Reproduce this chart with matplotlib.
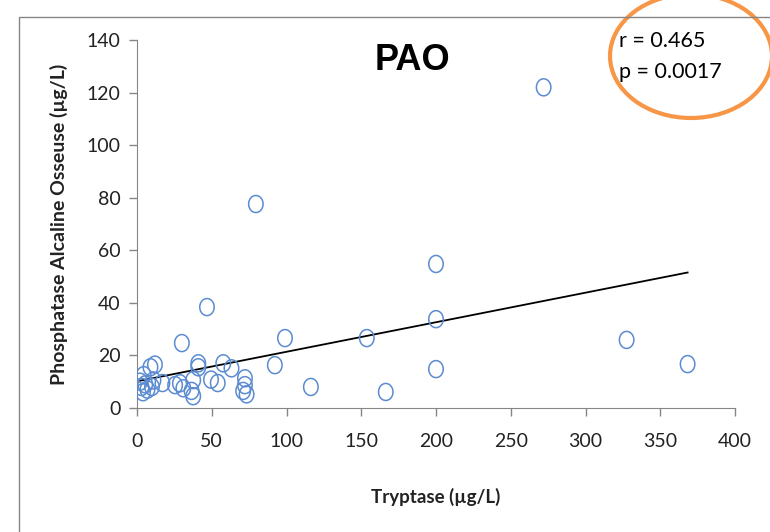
import numpy as np
import matplotlib
matplotlib.use("Agg")
import matplotlib.pyplot as plt
from matplotlib.patches import Ellipse, Rectangle
from matplotlib.path import Path

# tryptase (x) vs phosphatase alcaline osseuse (y)
tryptase = [272, 79.5, 200, 200, 46.8, 99, 153.7, 327.5, 368.3, 200, 166.4, 116.3, 92.2, 30,
            2, 3, 4, 4.5, 5.5, 7, 9, 10, 11, 12, 17, 25.5, 28.7, 31, 36.5, 37.6, 37.6,
            41, 41, 49.5, 54, 57.7, 63.2, 71, 72.2, 72.2, 73.3]
pao = [122, 77.6, 54.8, 33.8, 38.4, 26.6, 26.6, 25.9, 16.7, 14.8, 6.1, 8.0, 16.3, 24.7,
       10, 8, 6, 12.5, 9, 7, 15.5, 8, 10.5, 16.5, 9.5, 8.7, 9.4, 7.5, 6.5, 10.6, 4.5,
       17, 15.5, 10.8, 9.5, 17, 15.1, 6.5, 11.3, 8.7, 5.2]

trend_slope = 0.1124
trend_intercept = 10.15

x_ticks = [0, 50, 100, 150, 200, 250, 300, 350, 400]
y_ticks = [0, 20, 40, 60, 80, 100, 120, 140]

title = "PAO"
stats_lines = ["r = 0.465", "p = 0.0017"]

plt.rcParams["font.family"] = ["Lato", "DejaVu Sans"]

fig = plt.figure(figsize=(7.7, 5.32), dpi=100)
ax = fig.add_axes([137 / 770, 1 - 408 / 532, 598 / 770, 368 / 532])

# slightly tall oval marker like the Excel one
t = np.linspace(0, 2 * np.pi, 60)
oval = Path(np.column_stack([0.85 * np.cos(t), np.sin(t)]), closed=True)

ax.scatter(tryptase, pao, marker=oval, s=150, facecolors="none",
           edgecolors="#5B8BD0", linewidths=1.1, zorder=3)

tx = np.array([min(tryptase), max(tryptase)])
ax.plot(tx, trend_intercept + trend_slope * tx, color="black", lw=1.3, zorder=2)

ax.set_xlim(0, 400)
ax.set_ylim(0, 140)
ax.set_xticks(x_ticks)
ax.set_yticks(y_ticks)
ax.tick_params(direction="out", length=6, width=1, color="#868686",
               labelsize=14, labelcolor="#222222", pad=6)
ax.tick_params(axis="x", pad=12)
for s in ["top", "right"]:
    ax.spines[s].set_visible(False)
for s in ["left", "bottom"]:
    ax.spines[s].set_color("#868686")

ax.set_xlabel("Tryptase (µg/L)", fontsize=13.5, fontweight="bold", labelpad=27, color="#222222")
ax.set_ylabel("Phosphatase Alcaline Osseuse (µg/L)", fontsize=14, fontweight="bold",
              labelpad=13, color="#222222")

fig.text(412 / 770, 1 - 61 / 532, title, fontsize=26, fontweight="bold",
         family=["Liberation Sans", "DejaVu Sans"], ha="center", va="center")
fig.text(619 / 770, 1 - 41 / 532, stats_lines[0], fontsize=15.5, ha="left", va="center")
fig.text(619 / 770, 1 - 72 / 532, stats_lines[1], fontsize=15.5, ha="left", va="center")

# orange ring drawn around the statistics
fig.add_artist(Ellipse((691 / 770, 1 - 56 / 532), 162 / 770, 124 / 532,
                       transform=fig.transFigure, fill=False, ec="#F79646", lw=3))
fig.add_artist(Rectangle((19 / 770, -0.1), 1.2, 1.1 - 17 / 532,
                         transform=fig.transFigure, fill=False, ec="#868686", lw=1))

fig.savefig("out.png", dpi=100)
